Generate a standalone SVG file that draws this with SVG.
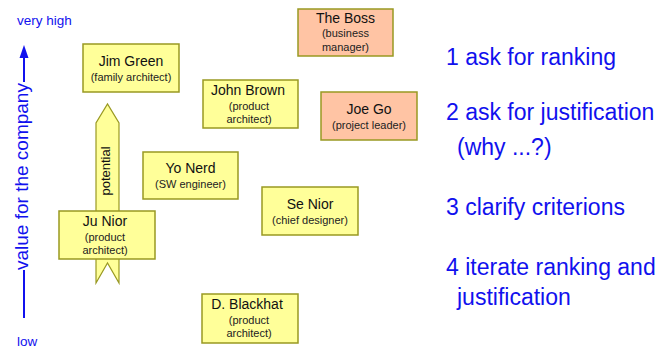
<svg xmlns="http://www.w3.org/2000/svg" width="655" height="349" viewBox="0 0 655 349">
<style>
.box{fill:#ffff99;stroke:#999922;stroke-width:1.5}
.boss{fill:#ffc4a4;stroke:#999922;stroke-width:1.5}
.t{font-family:"Liberation Sans",Arial,sans-serif;font-size:14px;fill:#111;text-anchor:middle}
.s{font-family:"Liberation Sans",Arial,sans-serif;font-size:11px;fill:#222;text-anchor:middle}
.b{font-family:"Liberation Sans",Arial,sans-serif;fill:#1111ee}
.r{font-size:23px}
</style>
<g id="axis">
<line x1="24" y1="318" x2="24" y2="270" stroke="#1111ee" stroke-width="2"/>
<line x1="24" y1="82" x2="24" y2="57" stroke="#1111ee" stroke-width="2"/>
<path d="M19.5,58 L24,45 L28.5,58 Z" fill="#1111ee"/>
<text class="b" font-size="19" transform="translate(27.5,270) rotate(-90)">value for the company</text>
<text class="b" font-size="13.5" x="17" y="25">very high</text>
<text class="b" font-size="13.5" x="17" y="346">low</text>
</g>
<g id="potential">
<path d="M96,283 L96,123 L107.5,104 L119,123 L119,283 L107.5,263 Z" fill="#ffff99" stroke="#999922" stroke-width="1.2"/>
<text class="t" transform="translate(109.5,171) rotate(-90)" style="font-size:13px">potential</text>
</g>
<g id="jim-green">
<rect class="box" x="83" y="44" width="96" height="48"/>
<text class="t" x="131" y="66">Jim Green</text>
<text class="s" x="131" y="81">(family architect)</text>
</g>
<g id="the-boss">
<rect class="boss" x="298" y="9" width="95" height="47"/>
<text class="t" x="345.5" y="23">The Boss</text>
<text class="s" x="345.5" y="37">(business</text>
<text class="s" x="345.5" y="51">manager)</text>
</g>
<g id="john-brown">
<rect class="box" x="203" y="80" width="95" height="48"/>
<text class="t" x="248" y="95">John Brown</text>
<text class="s" x="249" y="110">(product</text>
<text class="s" x="249" y="123">architect)</text>
</g>
<g id="joe-go">
<rect class="boss" x="321" y="92" width="96" height="48"/>
<text class="t" x="369" y="114">Joe Go</text>
<text class="s" x="369" y="129">(project leader)</text>
</g>
<g id="yo-nerd">
<rect class="box" x="143" y="152" width="95" height="47"/>
<text class="t" x="190.5" y="173">Yo Nerd</text>
<text class="s" x="190.5" y="188">(SW engineer)</text>
</g>
<g id="se-nior">
<rect class="box" x="262" y="187" width="96" height="48"/>
<text class="t" x="310" y="209">Se Nior</text>
<text class="s" x="310" y="224">(chief designer)</text>
</g>
<g id="ju-nior">
<rect class="box" x="59" y="211" width="96" height="48"/>
<text class="t" x="105" y="226">Ju Nior</text>
<text class="s" x="105" y="241">(product</text>
<text class="s" x="105" y="254">architect)</text>
</g>
<g id="d-blackhat">
<rect class="box" x="202" y="294" width="96" height="49"/>
<text class="t" x="247" y="309">D. Blackhat</text>
<text class="s" x="249" y="324">(product</text>
<text class="s" x="249" y="337">architect)</text>
</g>
<g id="steps">
<text class="b r" x="446" y="65">1 ask for ranking</text>
<text class="b r" x="446" y="120">2 ask for justification</text>
<text class="b r" x="457" y="155">(why ...?)</text>
<text class="b r" x="446" y="215">3 clarify criterions</text>
<text class="b r" x="446" y="275">4 iterate ranking and</text>
<text class="b r" x="457" y="305">justification</text>
</g>
</svg>
